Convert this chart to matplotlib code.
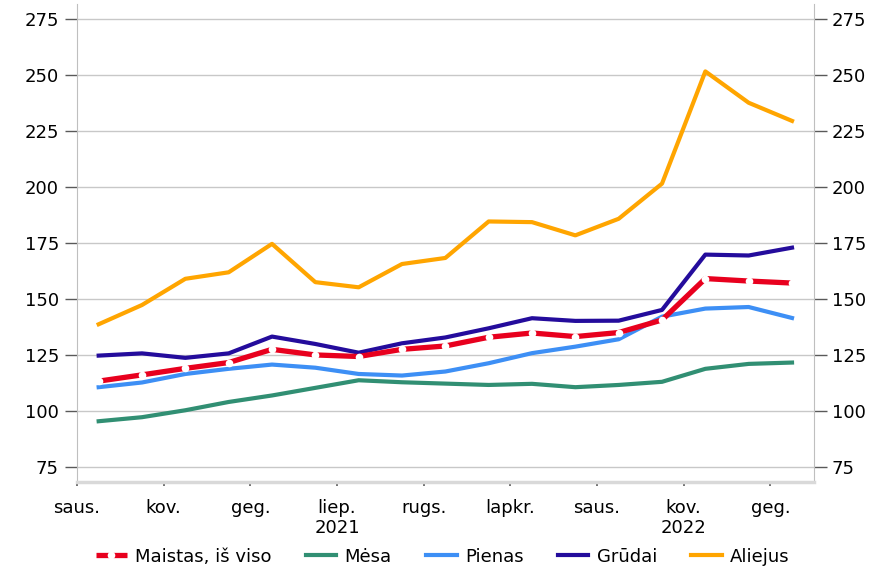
import numpy as np
import matplotlib.pyplot as plt
from matplotlib.ticker import FixedLocator

# Kainų indeksai, 2021 m. sausis - 2022 m. gegužė
menesiai = np.arange(17)
maistas = [113.3, 116.1, 119.0, 121.6, 127.5, 125.0, 124.3, 127.5, 129.0,
           132.9, 134.8, 133.2, 135.0, 140.6, 159.1, 158.0, 157.1]
mesa = [95.4, 97.2, 100.3, 104.0, 106.9, 110.3, 113.7, 112.8, 112.2,
        111.6, 112.1, 110.6, 111.6, 113.0, 118.8, 121.0, 121.6]
pienas = [110.6, 112.7, 116.5, 118.8, 120.7, 119.3, 116.5, 115.8, 117.6,
          121.3, 125.8, 128.7, 132.0, 142.1, 145.7, 146.4, 141.5]
grudai = [124.7, 125.7, 123.7, 125.7, 133.2, 129.9, 126.0, 130.2, 132.8,
          136.9, 141.4, 140.2, 140.3, 145.1, 169.8, 169.4, 172.9]
aliejus = [138.7, 147.3, 159.0, 161.9, 174.6, 157.5, 155.2, 165.6, 168.3,
           184.6, 184.3, 178.4, 185.8, 201.5, 251.6, 237.6, 229.5]

x_etiketes = ['saus.', 'kov.', 'geg.', 'liep.\n2021', 'rugs.', 'lapkr.',
              'saus.', 'kov.\n2022', 'geg.']
y_reiksmes = [75, 100, 125, 150, 175, 200, 225, 250, 275]

plt.rcParams['font.family'] = ['DejaVu Sans']
fig = plt.figure(figsize=(8.77, 5.71), dpi=100)
ax = fig.add_axes([0.0878, 0.156, 0.840, 0.837])

x = menesiai + 0.5
ax.plot(x, mesa, color='#318f73', lw=3, label='Mėsa', zorder=3)
ax.plot(x, pienas, color='#3d8ff5', lw=3, label='Pienas', zorder=3)
ax.plot(x, grudai, color='#240c9c', lw=3, label='Grūdai', zorder=3)
ax.plot(x, aliejus, color='#ffa500', lw=3, label='Aliejus', zorder=3)
# raudona linija su baltais taškais vietoj tarpų
ax.plot(x, maistas, color='#e8001e', lw=3.8, solid_capstyle='butt',
        marker='o', ms=5.5, mfc='white', mew=0,
        label='Maistas, iš viso', zorder=4)

ax.set_xlim(0, 17)
ax.set_ylim(68.3, 281.7)
ax.set_yticks(y_reiksmes)
ax.grid(axis='y', color='#c8c8c8', lw=1)
ax.set_axisbelow(True)

ax.set_xticks(np.arange(0, 17, 2))
ax.set_xticklabels(x_etiketes, fontsize=13)
ax.xaxis.set_minor_locator(FixedLocator([0, 12]))
ax.tick_params(axis='x', which='major', length=3, width=1.2, color='#595959', pad=9)
ax.tick_params(axis='x', which='minor', length=8, width=1.2, color='#595959')
ax.tick_params(axis='y', length=9, width=1, color='#595959', labelsize=13,
               left=True, right=True, labelleft=True, labelright=True, pad=4)

for s in ['left', 'right', 'top']:
    ax.spines[s].set_color('#bfbfbf')
ax.spines['top'].set_visible(False)
ax.spines['bottom'].set_color('#d9d9d9')
ax.spines['bottom'].set_linewidth(2.5)

h, l = ax.get_legend_handles_labels()
tvarka = [4, 0, 1, 2, 3]
fig.legend([h[i] for i in tvarka], [l[i] for i in tvarka], loc='center',
           bbox_to_anchor=(0.505, 0.025), ncol=5, frameon=False, fontsize=13,
           handlelength=1.7, handletextpad=0.45, columnspacing=1.9)

fig.savefig('out.png', dpi=100)
